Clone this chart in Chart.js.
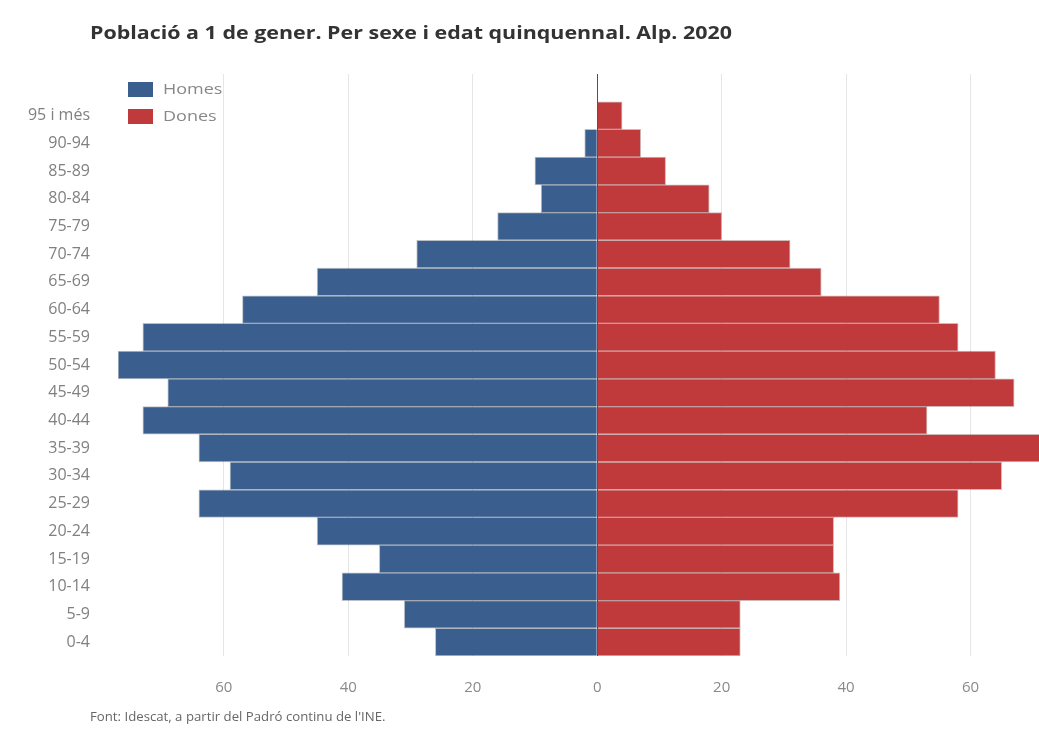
<!DOCTYPE html>
<html>
<head>
<meta charset="utf-8">
<title>Piràmide de població. Alp 2020</title>
<script src="https://cdn.jsdelivr.net/npm/chart.js@4/dist/chart.umd.min.js"></script>
<style>
    body { margin: 0; background: #fff; font-family: "Open Sans", sans-serif; }
    #wrap { position: relative; width: 1039px; height: 740px; overflow: hidden; }
    #wrap canvas { position: absolute; left: 0; top: 0; }
    .title { position: absolute; left: 90px; top: 21px; font-size: 17px; font-weight: 700; color: #333;
             white-space: nowrap; transform: scaleX(1.26); transform-origin: left center; }
    .source { position: absolute; left: 90px; top: 708px; font-size: 12px; color: #666;
              white-space: nowrap; transform: scaleX(1.1); transform-origin: left center; }
</style>
</head>
<body>
<div id="wrap">
    <canvas id="pyramid" width="1039" height="740"></canvas>
    <div class="title">Població a 1 de gener. Per sexe i edat quinquennal. Alp. 2020</div>
    <div class="source">Font: Idescat, a partir del Padró continu de l'INE.</div>
</div>
<script>
// Age groups, oldest first (the first row has no label and no people)
const ageGroups = ['', '95 i més', '90-94', '85-89', '80-84', '75-79', '70-74', '65-69', '60-64',
    '55-59', '50-54', '45-49', '40-44', '35-39', '30-34', '25-29', '20-24', '15-19', '10-14', '5-9', '0-4'];
const homes = [0, 0, 2, 10, 9, 16, 29, 45, 57, 73, 77, 69, 73, 64, 59, 64, 45, 35, 41, 31, 26];
const dones = [0, 4, 7, 11, 18, 20, 31, 36, 55, 58, 64, 67, 53, 73, 65, 58, 38, 38, 39, 23, 23];
const xTicks = [-60, -40, -20, 0, 20, 40, 60];

const BLUE = '#3a5f8e';
const RED = '#c0393b';

// Legend drawn inside the plot, top-left corner
const innerLegend = {
    id: 'innerLegend',
    afterDraw(chart) {
        const ctx = chart.ctx;
        ctx.save();
        ctx.font = '15px "Open Sans", sans-serif';
        ctx.textBaseline = 'middle';
        chart.data.datasets.forEach((ds, i) => {
            const y = 82 + i * 27;
            ctx.fillStyle = ds.backgroundColor;
            ctx.fillRect(128, y, 25, 15);
            ctx.fillStyle = '#888';
            ctx.save();
            ctx.translate(163, y + 8);
            ctx.scale(1.2, 1);
            ctx.fillText(ds.label, 0, 0);
            ctx.restore();
        });
        ctx.restore();
    }
};

new Chart(document.getElementById('pyramid'), {
    type: 'bar',
    data: {
        labels: ageGroups,
        datasets: [
            {
                label: 'Homes',
                data: homes.map(v => -v),
                backgroundColor: BLUE,
                borderColor: 'rgba(30,50,80,0.3)',
                borderWidth: 1
            },
            {
                label: 'Dones',
                data: dones,
                backgroundColor: RED,
                borderColor: 'rgba(110,20,20,0.3)',
                borderWidth: 1
            }
        ]
    },
    options: {
        indexAxis: 'y',
        responsive: false,
        animation: false,
        layout: { padding: { top: 74, bottom: 44, left: 0, right: 0 } },
        datasets: { bar: { barPercentage: 1, categoryPercentage: 1 } },
        plugins: {
            legend: { display: false },
            tooltip: { enabled: false }
        },
        scales: {
            y: {
                stacked: true,
                grid: { display: false, drawTicks: false },
                border: { display: false },
                ticks: { color: '#808080', padding: 28, font: { family: 'Open Sans', size: 16 } },
                afterFit: s => { s.width = 118; }
            },
            x: {
                stacked: true,
                min: -77,
                max: 71,
                afterBuildTicks: s => { s.ticks = xTicks.map(v => ({ value: v })); },
                grid: {
                    drawTicks: false,
                    color: c => c.tick && c.tick.value === 0 ? '#4c5260' : '#e6e6e6'
                },
                border: { display: false },
                ticks: {
                    color: '#8a8a8a',
                    padding: 23,
                    font: { family: 'Open Sans', size: 15 },
                    callback: v => Math.abs(v)
                },
                afterFit: s => { s.height = 40; }
            }
        }
    },
    plugins: [innerLegend]
});
</script>
</body>
</html>
